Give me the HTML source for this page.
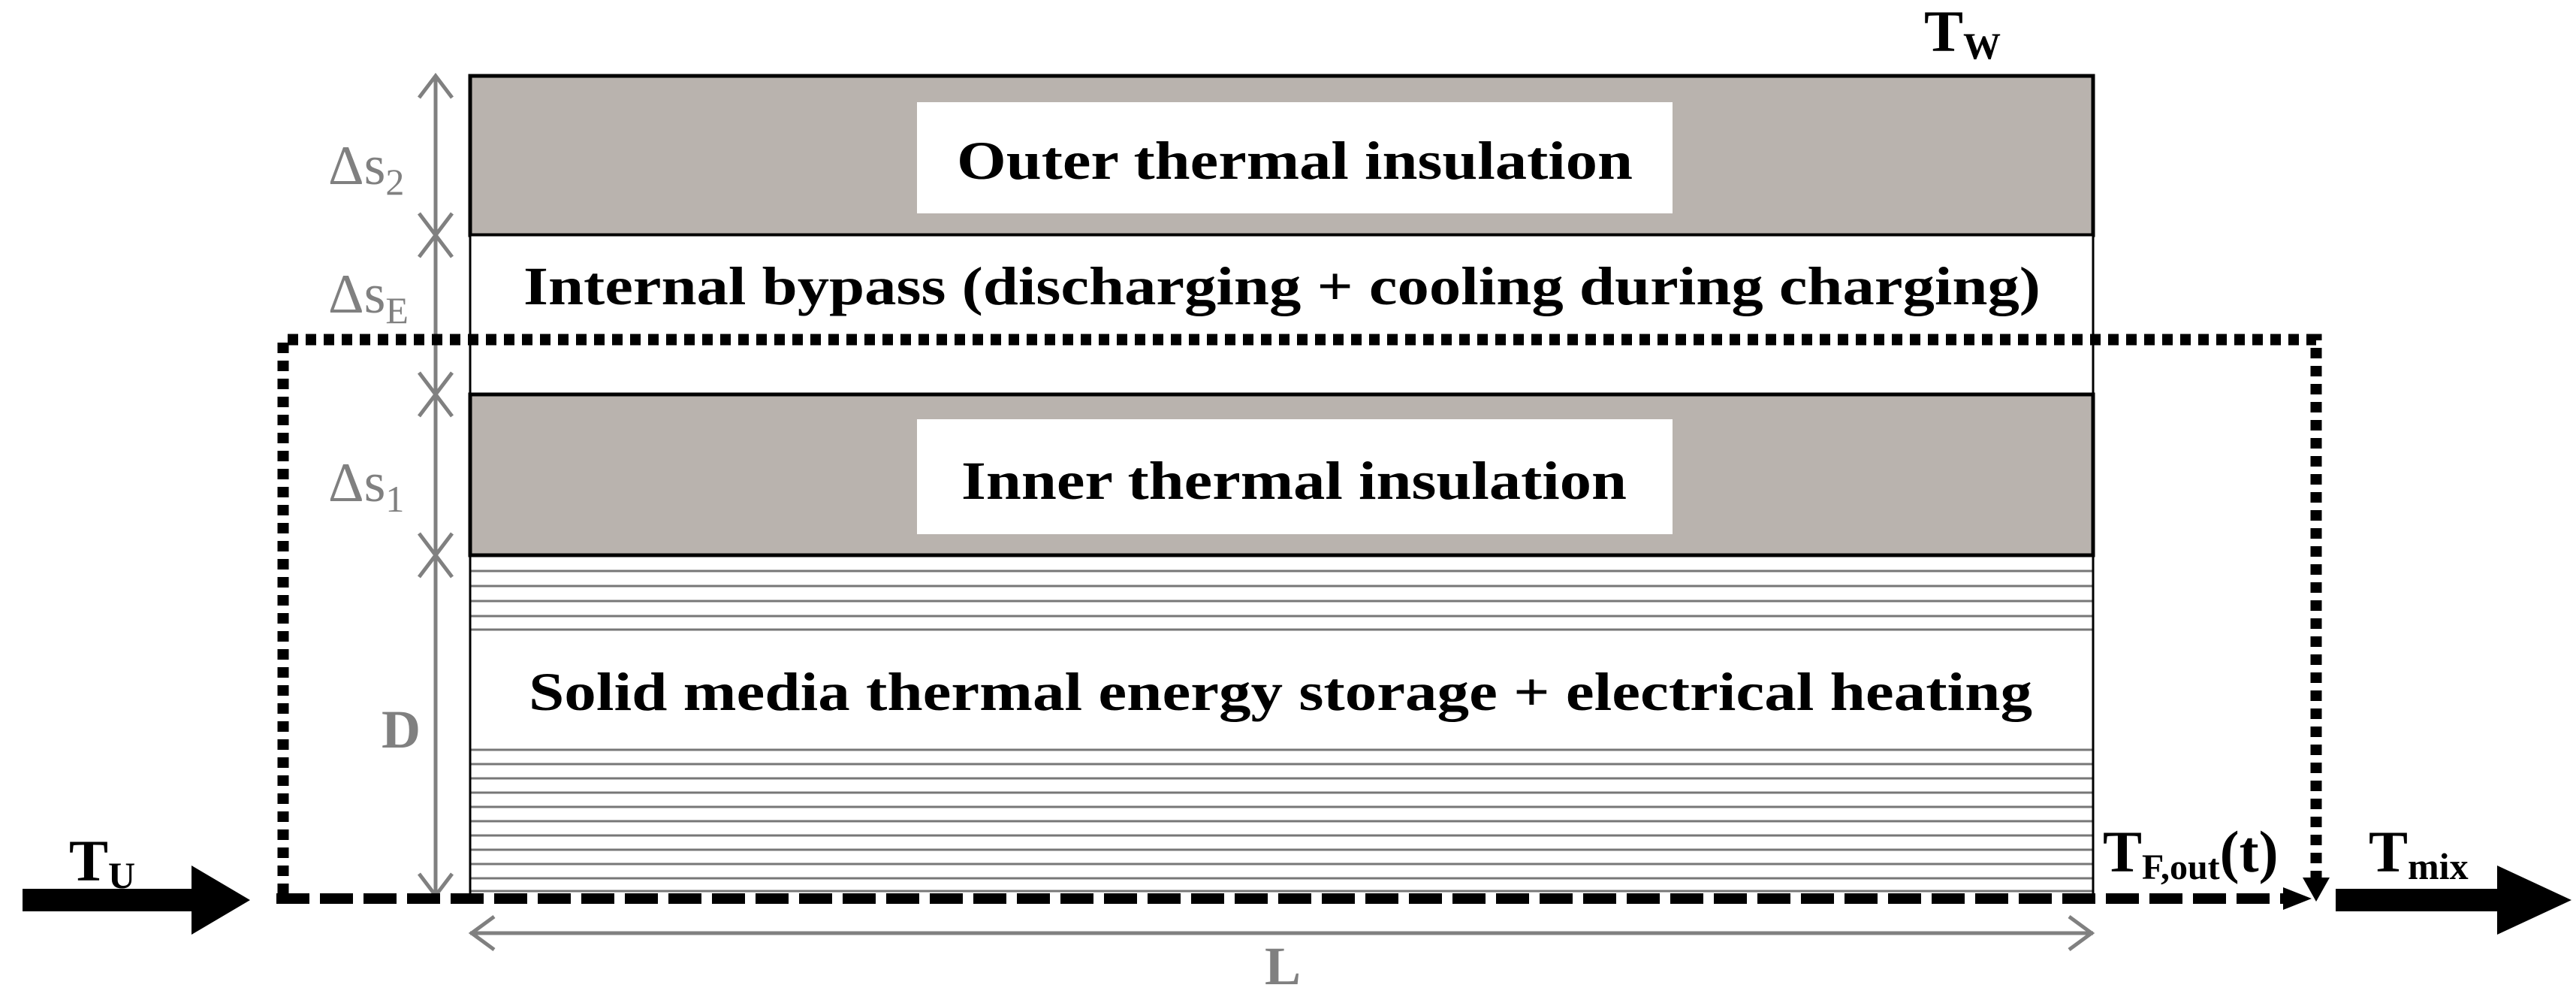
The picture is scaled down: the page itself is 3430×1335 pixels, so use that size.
<!DOCTYPE html>
<html><head><meta charset="utf-8"><style>html,body{margin:0;padding:0;background:#fff}svg{display:block}</style></head>
<body>
<svg width="3430" height="1335" viewBox="0 0 3430 1335" xmlns="http://www.w3.org/2000/svg" font-family="Liberation Serif, serif" font-weight="bold">
<rect width="3430" height="1335" fill="#fff"/>
<g stroke="#777" stroke-width="3">
<line x1="626" x2="2787" y1="760" y2="760"/><line x1="626" x2="2787" y1="780" y2="780"/><line x1="626" x2="2787" y1="800" y2="800"/><line x1="626" x2="2787" y1="820" y2="820"/><line x1="626" x2="2787" y1="838" y2="838"/>
<line x1="626" x2="2787" y1="998" y2="998"/><line x1="626" x2="2787" y1="1017" y2="1017"/><line x1="626" x2="2787" y1="1036" y2="1036"/><line x1="626" x2="2787" y1="1055" y2="1055"/><line x1="626" x2="2787" y1="1074" y2="1074"/><line x1="626" x2="2787" y1="1093" y2="1093"/><line x1="626" x2="2787" y1="1112" y2="1112"/><line x1="626" x2="2787" y1="1131" y2="1131"/><line x1="626" x2="2787" y1="1150" y2="1150"/><line x1="626" x2="2787" y1="1169" y2="1169"/><line x1="626" x2="2787" y1="1186" y2="1186"/>
</g>
<line x1="626" y1="739" x2="626" y2="1192" stroke="#000" stroke-width="3"/>
<line x1="2787" y1="739" x2="2787" y2="1192" stroke="#000" stroke-width="3"/>
<rect x="626" y="101" width="2161" height="212" fill="#b9b3ae" stroke="#000" stroke-width="5"/>
<rect x="626" y="313" width="2161" height="212" fill="#fff" stroke="#000" stroke-width="3"/>
<rect x="626" y="525" width="2161" height="214" fill="#b9b3ae" stroke="#000" stroke-width="5"/>
<rect x="1221" y="136" width="1006" height="148" fill="#fff"/>
<rect x="1221" y="558" width="1006" height="153" fill="#fff"/>
<text x="1724" y="238" font-size="72" text-anchor="middle" textLength="900" lengthAdjust="spacingAndGlyphs">Outer thermal insulation</text>
<text x="1707" y="405" font-size="72" text-anchor="middle" textLength="2020" lengthAdjust="spacingAndGlyphs">Internal bypass (discharging + cooling during charging)</text>
<text x="1723" y="664" font-size="72" text-anchor="middle" textLength="886" lengthAdjust="spacingAndGlyphs">Inner thermal insulation</text>
<text x="1705" y="945" font-size="72" text-anchor="middle" textLength="2002" lengthAdjust="spacingAndGlyphs">Solid media thermal energy storage + electrical heating</text>
<g stroke="#808080" stroke-width="5" fill="none">
<line x1="580" y1="101" x2="580" y2="1192"/>
<polyline points="558,130 580,101 602,130"/>
<polyline points="558,284 580,313 602,284"/><polyline points="558,342 580,313 602,342"/>
<polyline points="558,496 580,525 602,496"/><polyline points="558,554 580,525 602,554"/>
<polyline points="558,710 580,739 602,710"/><polyline points="558,768 580,739 602,768"/>
<polyline points="558,1163 580,1192 602,1163"/>
<line x1="626" y1="1242" x2="2787" y2="1242"/>
<polyline points="658,1220 628,1242 658,1264"/><polyline points="2755,1220 2785,1242 2755,1264"/>
</g>
<g fill="#808080" font-size="74" font-weight="normal">
<text x="437" y="245">Δs<tspan font-size="50" dy="14">2</tspan></text>
<text x="437" y="416">Δs<tspan font-size="50" dy="14">E</tspan></text>
<text x="437" y="667">Δs<tspan font-size="50" dy="14">1</tspan></text>
</g>
<g fill="#808080">
<text x="508" y="995" font-size="72">D</text>
<text x="1684" y="1310" font-size="72">L</text>
</g>
<polyline points="377,1190 377,452 3084,452 3084,1170" fill="none" stroke="#000" stroke-width="15" stroke-dasharray="14,10"/>
<polygon points="3066,1168 3102,1168 3084,1200" fill="#000"/>
<line x1="368" y1="1196" x2="3045" y2="1196" stroke="#000" stroke-width="14" stroke-dasharray="44,14"/>
<polygon points="3040,1181 3078,1196 3040,1211" fill="#000"/>
<polygon points="30,1183 255,1183 255,1152 333,1198 255,1244 255,1213 30,1213" fill="#000"/>
<polygon points="3110,1183 3325,1183 3325,1152 3424,1198 3325,1244 3325,1213 3110,1213" fill="#000"/>
<g fill="#000" font-size="78">
<text x="2562" y="68">T<tspan font-size="50" dy="10">W</tspan></text>
<text x="92" y="1172">T<tspan font-size="50" dy="10">U</tspan></text>
<text x="2800" y="1160">T<tspan font-size="48" dy="10">F,out</tspan><tspan dy="-10">(t)</tspan></text>
<text x="3154" y="1160">T<tspan font-size="50" dy="10">mix</tspan></text>
</g>
</svg>
</body></html>
